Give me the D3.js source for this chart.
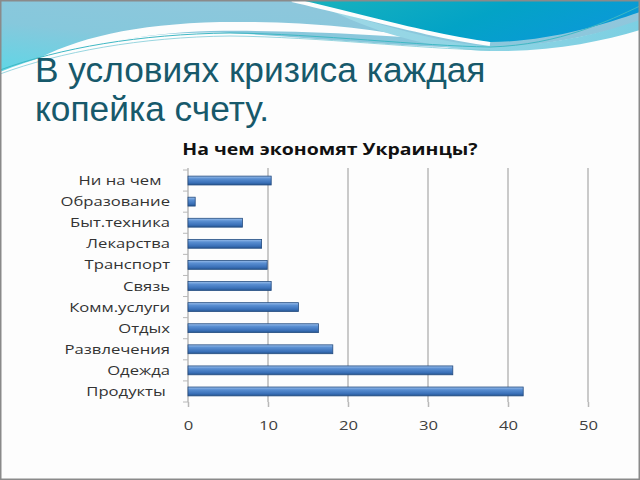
<!DOCTYPE html>
<html><head><meta charset="utf-8">
<script src="https://cdn.jsdelivr.net/npm/d3@7"></script>
<style>
html,body{margin:0;padding:0;background:#fff;}
svg{display:block;}
</style></head>
<body>
<svg id="c" width="640" height="480"></svg>
<script>
const categories = ["Ни на чем  ","Образование","Быт.техника","Лекарства","Транспорт","Связь","Комм.услуги","Отдых","Развлечения","Одежда","Продукты "];
const values = [10.4, 0.9, 6.8, 9.2, 9.9, 10.4, 13.8, 16.3, 18.1, 33.1, 41.9];
const xTicks = [0, 10, 20, 30, 40, 50];
const slideTitle = ["В условиях кризиса каждая", "копейка счету."];
const chartTitle = "На чем экономят Украинцы?";

const svg = d3.select("#c");
const defs = svg.append("defs");
const SX = 1.28; // horizontal stretch of the chart text in the reference

svg.append("rect").attr("width",640).attr("height",480).attr("fill","#fdfdfd");

// decorative header waves
const gLight = defs.append("linearGradient").attr("id","gl").attr("x1","0").attr("y1","1").attr("x2","1").attr("y2","0");
gLight.append("stop").attr("offset","0").attr("stop-color","#5fd6e6");
gLight.append("stop").attr("offset","0.35").attr("stop-color","#86c8dc");
gLight.append("stop").attr("offset","1").attr("stop-color","#93c6dc");
const gDark = defs.append("linearGradient").attr("id","gd").attr("x1","0").attr("y1","0").attr("x2","1").attr("y2","0.3");
gDark.append("stop").attr("offset","0").attr("stop-color","#19b3bd");
gDark.append("stop").attr("offset","0.6").attr("stop-color","#03a3c6");
gDark.append("stop").attr("offset","1").attr("stop-color","#0a9ad6");
const gBand = defs.append("linearGradient").attr("id","gb").attr("x1","0").attr("y1","0").attr("x2","1").attr("y2","0");
gBand.append("stop").attr("offset","0").attr("stop-color","#9ed8e6");
gBand.append("stop").attr("offset","1").attr("stop-color","#7ccfe2");

const deco = svg.append("g");
deco.append("path").attr("fill","url(#gl)")
  .attr("d","M0,0 H640 V22 C600,34 540,48 480,48 C400,47 320,38 230,33 C150,30 70,45 0,72 Z");
deco.append("path").attr("fill","#fdfdfd")
  .attr("d","M32,62 C75,38 135,24 220,22 C300,21 360,27 420,38 C350,33 280,30 210,31 C140,33 85,46 32,62 Z");
deco.append("path").attr("fill","url(#gb)")
  .attr("d","M330,10 C400,30 450,45 490,46 C560,46 610,30 640,20 V30 C600,42 550,52 490,51 C440,50 380,35 330,10 Z");
deco.append("path").attr("fill","url(#gd)")
  .attr("d","M295,0 H640 V12 C600,26 545,42 490,42 C440,41 380,22 295,0 Z");
deco.append("path").attr("fill","none").attr("stroke","#fdfdfd").attr("stroke-width",4)
  .attr("d","M292,0 C370,18 430,36 490,44");
deco.append("path").attr("fill","none").attr("stroke","#3fb8c4").attr("stroke-width",1)
  .attr("d","M0,70 C60,48 140,34 230,33 C320,34 420,46 490,47 C560,45 610,20 640,6");
deco.append("path").attr("fill","none").attr("stroke","#7fcbd8").attr("stroke-width",0.8)
  .attr("d","M0,74 C60,52 140,37 230,36 C320,37 420,49 490,50");

// slide title
const st = svg.append("g").attr("fill","#17596b").style("font-family","'Liberation Sans', Arial, sans-serif").style("font-size","35.3px");
slideTitle.forEach((t,i)=> st.append("text").attr("x",35).attr("y",82 + i*39).text(t));

// chart scales
const x = d3.scaleLinear().domain([0,50]).range([188,588]);
const y = d3.scaleBand().domain(categories).range([170,402]).paddingInner(0.58).paddingOuter(0.29);

svg.append("text").attr("transform",`translate(330,155) scale(1.18,1)`).attr("text-anchor","middle")
  .style("font-family","'Open Sans', sans-serif").style("font-weight","bold").style("font-size","16.5px")
  .attr("fill","#111").text(chartTitle);

// gridlines
svg.append("g").selectAll("line").data(xTicks.slice(1)).join("line")
  .attr("x1",d=>x(d)).attr("x2",d=>x(d)).attr("y1",168).attr("y2",402)
  .attr("stroke","#b8b8b8").attr("stroke-width",1.5);

// x axis
const xa = svg.append("g").attr("transform","translate(0,402)")
  .call(d3.axisBottom(x).tickValues(xTicks).tickSize(5).tickPadding(12));
xa.select(".domain").remove();
xa.selectAll("line").attr("stroke","#b8b8b8").attr("stroke-width",1.5);
xa.selectAll("text").attr("y",null).attr("dy",null)
  .attr("transform",`translate(0,27.5) scale(${SX},1)`)
  .style("font-family","'Open Sans', sans-serif").style("font-size","13px").attr("fill","#404040");

// y axis
const ya = svg.append("g").attr("transform","translate(188,0)")
  .call(d3.axisLeft(y).tickSize(0).tickPadding(18));
ya.select(".domain").attr("stroke","#b8b8b8").attr("stroke-width",1.5).attr("d","M0,168V402");
ya.selectAll("text").attr("x",null).attr("dy",null)
  .attr("transform",`translate(-18,4.5) scale(${SX},1)`)
  .style("white-space","pre")
  .style("font-family","'Open Sans', sans-serif").style("font-size","13px").attr("fill","#333");
const step = y.step();
svg.append("g").selectAll("line").data(d3.range(categories.length+1)).join("line")
  .attr("x1",183).attr("x2",188)
  .attr("y1",i=> y(categories[0]) - y.paddingOuter()*step + i*step)
  .attr("y2",i=> y(categories[0]) - y.paddingOuter()*step + i*step)
  .attr("stroke","#b8b8b8").attr("stroke-width",1);

// bars
const gBar = defs.append("linearGradient").attr("id","gbar").attr("x1","0").attr("y1","0").attr("x2","0").attr("y2","1");
gBar.append("stop").attr("offset","0").attr("stop-color","#9cc0ec");
gBar.append("stop").attr("offset","0.3").attr("stop-color","#5a8fd2");
gBar.append("stop").attr("offset","0.75").attr("stop-color","#3a70b8");
gBar.append("stop").attr("offset","1").attr("stop-color","#26558f");

svg.append("g").selectAll("rect").data(values).join("rect")
  .attr("x",x(0)).attr("y",(d,i)=>y(categories[i]))
  .attr("width",d=>x(d)-x(0)).attr("height",y.bandwidth())
  .attr("fill","url(#gbar)").attr("stroke","#234c80").attr("stroke-width",0.8);

// slide border
svg.append("rect").attr("x",0.75).attr("y",0.75).attr("width",638.5).attr("height",478.5)
  .attr("fill","none").attr("stroke","#8a8a8a").attr("stroke-width",1.5);
</script>
</body></html>
